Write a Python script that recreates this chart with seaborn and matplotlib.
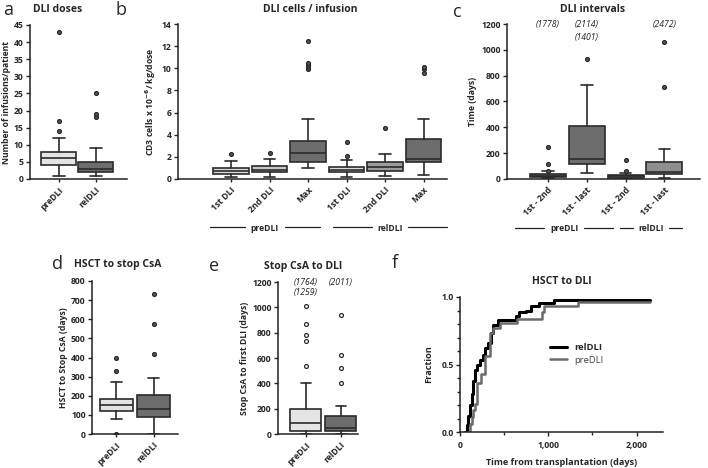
import numpy as np
import matplotlib
matplotlib.use('Agg')
import matplotlib.pyplot as plt
import matplotlib.transforms as mtransforms
from matplotlib.ticker import MultipleLocator, FuncFormatter
import seaborn as sns

sns.set_theme(style='ticks')
plt.rcParams['font.family'] = ['Open Sans', 'DejaVu Sans']
plt.rcParams.update({'font.size': 6.3, 'font.weight': 'bold', 'axes.labelweight': 'bold',
                     'axes.linewidth': 1.1, 'axes.edgecolor': '#222222',
                     'xtick.major.width': 1.0, 'ytick.major.width': 1.0,
                     'xtick.major.size': 3, 'ytick.major.size': 3,
                     'xtick.labelsize': 6.2, 'ytick.labelsize': 6.2})

# ---- a: DLI doses ----
a_labels = ['preDLI', 'relDLI']
a_q1 = [4, 2]
a_med = [6, 3]
a_q3 = [7.8, 5]
a_lo = [1, 1]
a_hi = [12, 9]
a_out = [[14, 17, 43], [18, 19, 25]]

# ---- b: DLI cells / infusion ----
b_labels = ['1st DLI', '2nd DLI', 'Max', '1st DLI', '2nd DLI', 'Max']
b_q1 = [0.45, 0.6, 1.5, 0.6, 0.75, 1.5]
b_med = [0.7, 0.85, 2.35, 0.8, 1.05, 1.8]
b_q3 = [1.0, 1.15, 3.45, 1.05, 1.55, 3.65]
b_lo = [0.2, 0.2, 0.95, 0.2, 0.3, 0.35]
b_hi = [1.65, 1.8, 5.45, 1.7, 2.3, 5.4]
b_out = [[2.3], [2.35], [9.9, 10.1, 10.3, 10.5, 12.5], [2.1, 3.35], [4.6], [9.6, 9.9, 10.1]]

# ---- c: DLI intervals ----
c_labels = ['1st - 2nd', '1st - last', '1st - 2nd', '1st - last']
c_q1 = [15, 116, 10, 36]
c_med = [25, 157, 20, 57]
c_q3 = [35, 413, 30, 129]
c_lo = [5, 50, 0, 5]
c_hi = [60, 730, 50, 230]
c_out = [[65, 120, 250], [930], [60, 150], [715, 1060]]
c_offscale = [['(1778)'], ['(2114)', '(1401)'], [], ['(2472)']]

# ---- d: HSCT to stop CsA ----
d_labels = ['preDLI', 'relDLI']
d_q1 = [120, 90]
d_med = [150, 130]
d_q3 = [185, 205]
d_lo = [80, 0]
d_hi = [270, 295]
d_out = [[0, 330, 400], [420, 575, 730]]

# ---- e: Stop CsA to DLI ----
e_labels = ['preDLI', 'relDLI']
e_q1 = [20, 20]
e_med = [85, 50]
e_q3 = [195, 145]
e_lo = [0, 0]
e_hi = [400, 225]
e_out = [[540, 735, 785, 865, 1010], [400, 525, 620, 940]]
e_offscale = [['(1764)', '(1259)'], ['(2011)']]

# ---- f: HSCT to DLI (cumulative fraction) ----
rel_days = [56, 75, 95, 115, 135, 150, 169, 190, 225, 262, 281, 318, 356, 375, 431, 637, 674, 749,
            805, 899, 1067, 2153]
rel_frac = [0.0, 0.05, 0.12, 0.2, 0.28, 0.38, 0.46, 0.5, 0.53, 0.57, 0.62, 0.66, 0.73, 0.79, 0.83,
            0.86, 0.89, 0.9, 0.93, 0.955, 0.975, 0.975]
pre_days = [82, 110, 131, 150, 169, 187, 243, 281, 337, 375, 449, 644, 929, 955, 1337, 2153]
pre_frac = [0.0, 0.06, 0.11, 0.16, 0.21, 0.36, 0.43, 0.56, 0.73, 0.77, 0.81, 0.84, 0.89, 0.93,
            0.96, 0.96]

EDGE = '#2b2b2b'
LIGHT = '#e4e4e4'
DARK = '#6d6d6d'

fig = plt.figure(figsize=(7.08, 4.68), dpi=100)


def add_ax(l, t, r, b):
    return fig.add_axes([l / 708, 1 - b / 468, (r - l) / 708, (b - t) / 468])


def boxes(ax, labels, q1, med, q3, lo, hi, out, colors, width, open_fliers=False):
    stats = []
    for i in range(len(labels)):
        stats.append({'q1': q1[i], 'med': med[i], 'q3': q3[i], 'whislo': lo[i],
                      'whishi': hi[i], 'fliers': out[i], 'label': labels[i]})
    pos = list(range(len(labels)))
    face = 'white' if open_fliers else '#555555'
    bp = ax.bxp(stats, positions=pos, widths=width, patch_artist=True, showfliers=True,
                capwidths=width * 0.32,
                boxprops=dict(edgecolor=EDGE, linewidth=1.2),
                medianprops=dict(color=EDGE, linewidth=1.2),
                whiskerprops=dict(color=EDGE, linewidth=1.2),
                capprops=dict(color=EDGE, linewidth=1.2),
                flierprops=dict(marker='o', markersize=2.8, markerfacecolor=face,
                                markeredgecolor=EDGE, markeredgewidth=0.9))
    for patch, col in zip(bp['boxes'], colors):
        patch.set_facecolor(col)
    ax.set_xticks(pos)
    ax.set_xticklabels(labels, rotation=45, ha='right', rotation_mode='anchor')
    sns.despine(ax=ax)
    ax.tick_params(axis='x', length=2.5, pad=2)
    ax.tick_params(axis='y', pad=1.5)
    for lab in ax.get_xticklabels() + ax.get_yticklabels():
        lab.set_fontweight('bold')
    return bp


def group(ax, x0, x1, gap, y, text):
    tr = mtransforms.blended_transform_factory(ax.transData, ax.transAxes)
    xc = (x0 + x1) / 2
    for a0, a1 in [(x0, xc - gap), (xc + gap, x1)]:
        ax.plot([a0, a1], [y, y], color='#222222', lw=0.9, transform=tr, clip_on=False)
    ax.text(xc, y, text, transform=tr, ha='center', va='center_baseline', fontsize=6.2,
            fontweight='bold')


# panel a
ax_a = add_ax(30, 25, 127, 179)
boxes(ax_a, a_labels, a_q1, a_med, a_q3, a_lo, a_hi, a_out, [LIGHT, DARK], 0.95)
ax_a.set_xlim(-0.78, 1.84)
ax_a.set_ylim(0, 45)
ax_a.yaxis.set_major_locator(MultipleLocator(5))
ax_a.set_ylabel('Number of infusions/patient', fontsize=6.2, labelpad=2)

# panel b
ax_b = add_ax(178, 24, 447, 179)
boxes(ax_b, b_labels, b_q1, b_med, b_q3, b_lo, b_hi, b_out,
      ['#dadada', '#c6c6c6', DARK, '#dcdcdc', '#9c9c9c', DARK], 0.93)
ax_b.set_xlim(-1.38, 5.61)
ax_b.set_ylim(0, 14)
ax_b.yaxis.set_major_locator(MultipleLocator(2))
ax_b.set_ylabel(r'CD3 cells x 10$^{\mathbf{-6}}$/ kg/dose', fontsize=6.2, labelpad=3)
group(ax_b, -0.55, 2.31, 0.52, -0.31, 'preDLI')
group(ax_b, 2.65, 5.61, 0.47, -0.31, 'relDLI')

# panel c
ax_c = add_ax(507, 24, 700, 179)
boxes(ax_c, c_labels, c_q1, c_med, c_q3, c_lo, c_hi, c_out, [DARK, DARK, DARK, '#8f8f8f'], 0.93)
ax_c.set_xlim(-1.06, 3.92)
ax_c.set_ylim(0, 1200)
ax_c.yaxis.set_major_locator(MultipleLocator(200))
ax_c.set_ylabel('Time (days)', fontsize=6.2, labelpad=3)
for i, txts in enumerate(c_offscale):
    for j, t in enumerate(txts):
        ax_c.text(i, 1200 - j * 105, t, ha='center', va='center', fontsize=6.2,
                  fontstyle='italic', fontweight='normal', color='#222222')
group(ax_c, -0.85, 1.68, 0.52, -0.315, 'preDLI')
group(ax_c, 1.86, 3.45, 0.47, -0.315, 'relDLI')

# panel d
ax_d = add_ax(92, 281, 178, 434)
boxes(ax_d, d_labels, d_q1, d_med, d_q3, d_lo, d_hi, d_out, [LIGHT, DARK], 0.9)
ax_d.set_xlim(-0.66, 1.66)
ax_d.set_ylim(0, 800)
ax_d.yaxis.set_major_locator(MultipleLocator(100))
ax_d.set_ylabel('HSCT to Stop CsA (days)', fontsize=6.2, labelpad=2)

# panel e
ax_e = add_ax(278, 282, 358, 434)
boxes(ax_e, e_labels, e_q1, e_med, e_q3, e_lo, e_hi, e_out, [LIGHT, DARK], 0.9, open_fliers=True)
ax_e.set_xlim(-0.79, 1.5)
ax_e.set_ylim(0, 1200)
ax_e.yaxis.set_major_locator(MultipleLocator(200))
ax_e.set_ylabel('Stop CsA to first DLI (days)', fontsize=6.2, labelpad=2)
for i, txts in enumerate(e_offscale):
    for j, t in enumerate(txts):
        ax_e.text(i, 1200 - j * 85, t, ha='center', va='center', fontsize=6.2,
                  fontstyle='italic', fontweight='normal', color='#222222')

# panel f
ax_f = add_ax(460, 297, 663, 432)
sns.lineplot(x=rel_days, y=rel_frac, ax=ax_f, drawstyle='steps-post', estimator=None,
             color='black', lw=2.2, label='relDLI')
sns.lineplot(x=pre_days, y=pre_frac, ax=ax_f, drawstyle='steps-post', estimator=None,
             color='#6a6a6a', lw=1.8, label='preDLI')
ax_f.set_xlim(0, 2300)
ax_f.set_ylim(0, 1.0)
ax_f.xaxis.set_major_locator(MultipleLocator(1000))
ax_f.xaxis.set_minor_locator(MultipleLocator(500))
ax_f.yaxis.set_major_locator(MultipleLocator(0.5))
ax_f.yaxis.set_minor_locator(MultipleLocator(0.1))
ax_f.xaxis.set_major_formatter(FuncFormatter(lambda v, p: f'{int(v):,}'))
ax_f.yaxis.set_major_formatter(FuncFormatter(lambda v, p: f'{v:.1f}'))
ax_f.tick_params(which='minor', length=2, width=1.0)
ax_f.tick_params(axis='y', pad=1.5)
sns.despine(ax=ax_f)
for lab in ax_f.get_xticklabels() + ax_f.get_yticklabels():
    lab.set_fontweight('bold')
ax_f.set_xlabel('Time from transplantation (days)', fontsize=6.6, labelpad=6)
ax_f.set_ylabel('Fraction', fontsize=6.6, labelpad=6)
leg = ax_f.legend(loc='center left', bbox_to_anchor=(0.4, 0.58), frameon=False,
                  handlelength=1.8, fontsize=6.8, labelspacing=0.4)
leg.get_texts()[0].set_fontweight('bold')
leg.get_texts()[1].set_fontweight('normal')
leg.get_texts()[1].set_color('#444444')

# titles and panel letters
titles = [(58, 10, 'DLI doses'), (310, 10, 'DLI cells / infusion'), (593, 10, 'DLI intervals'),
          (118, 265, 'HSCT to stop CsA'), (303, 266, 'Stop CsA to DLI'), (562, 282, 'HSCT to DLI')]
for x, y, t in titles:
    fig.text(x / 708, 1 - y / 468, t, ha='center', va='center', fontsize=7.5, fontweight='bold')
letters = [(8, 10, 'a'), (121, 10, 'b'), (457, 12, 'c'), (58, 264, 'd'), (214, 266, 'e'),
           (395, 263, 'f')]
for x, y, t in letters:
    fig.text(x / 708, 1 - y / 468, t, ha='center', va='center', fontsize=13, fontweight='normal')

fig.savefig('out.png', dpi=100)
